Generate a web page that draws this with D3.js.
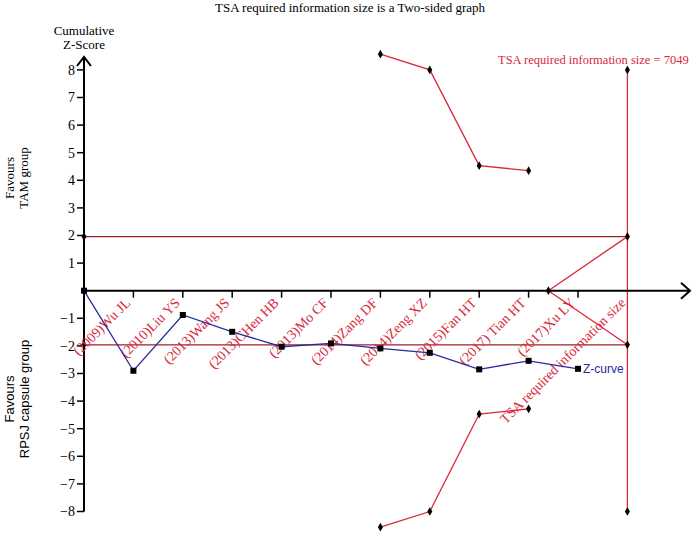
<!DOCTYPE html>
<meta charset="utf-8">
<script src="https://d3js.org/d3.v7.js"></script>
<style>
  body { margin: 0; background: #fff; }
</style>
<body>
<div id="my_dataviz"></div>
<script>
  // study labels along the x axis (one per tick)
  const studies = ["(2009)Wu JL", "(2010)Liu YS", "(2013)Wang JS", "(2013)CHen HB", "(2013)Mo CF",
                   "(2014)Zang DF", "(2014)Zeng XZ", "(2015)Fan HT", "(2017) Tian HT", "(2017)Xu LY"];
  // cumulative z-curve, starts at the origin
  const zPos = [0, 1, 2, 3, 4, 5, 6, 7, 8, 9, 10];
  const zVal = [0, -2.9, -0.88, -1.49, -2.03, -1.91, -2.09, -2.25, -2.85, -2.54, -2.83];
  // trial sequential monitoring boundaries
  const bPos = [6, 7, 8, 9];
  const upperB = [8.57, 8, 4.53, 4.35];
  const lowerB = [-8.57, -8, -4.47, -4.28];
  // inner wedge (futility) and RIS
  const wedgePos = [9.4, 11];
  const wedgeVal = [0, 1.96];
  const risPos = 11;
  const risLabel = "TSA required information size = 7049";
  const conv = 1.96;
  const yTicks = [8, 7, 6, 5, 4, 3, 2, 1, -1, -2, -3, -4, -5, -6, -7, -8];

  const width = 694, height = 538;
  const serif = "'Liberation Serif', 'Times New Roman', serif";
  const sans = "'Liberation Sans', Arial, sans-serif";
  const red = "#d8283a", darkRed = "#9c2228", blue = "#2a2a9c";

  const svg = d3.select("#my_dataviz").append("svg")
    .attr("width", width).attr("height", height)
    .style("font-family", serif);

  const x = d3.scaleLinear().domain([0, 11]).range([84, 627.4]);
  const y = d3.scaleLinear().domain([-8, 8]).range([511.5, 69.9]);

  // title
  svg.append("text").attr("x", 350).attr("y", 12).attr("text-anchor", "middle")
    .style("font-family", serif).style("font-size", "13px")
    .text("TSA required information size is a Two-sided graph");

  svg.append("text").attr("x", 84).attr("y", 35).attr("text-anchor", "middle")
    .style("font-family", serif).style("font-size", "13px").text("Cumulative");
  svg.append("text").attr("x", 84).attr("y", 49).attr("text-anchor", "middle")
    .style("font-family", serif).style("font-size", "13px").text("Z-Score");

  // side labels
  const side1 = svg.append("text").attr("transform", "translate(14,178) rotate(-90)")
    .attr("text-anchor", "middle").style("font-family", serif).style("font-size", "13px");
  side1.append("tspan").attr("x", 0).attr("dy", 0).text("Favours");
  side1.append("tspan").attr("x", 0).attr("dy", 14).text("TAM group");
  const side2 = svg.append("text").attr("transform", "translate(14,399) rotate(-90)")
    .attr("text-anchor", "middle").style("font-size", "13px")
    .style("font-family", sans);
  side2.append("tspan").attr("x", 0).attr("dy", 0).text("Favours");
  side2.append("tspan").attr("x", 0).attr("dy", 15).text("RPSJ capsule group");

  // conventional boundaries
  [conv, -conv].forEach(v => {
    svg.append("line").attr("x1", x(0)).attr("x2", x(risPos))
      .attr("y1", y(v)).attr("y2", y(v))
      .attr("stroke", darkRed).attr("stroke-width", 1.3);
  });

  // RIS vertical line
  svg.append("line").attr("x1", x(risPos)).attr("x2", x(risPos))
    .attr("y1", y(8)).attr("y2", y(-8)).attr("stroke", red).attr("stroke-width", 1.3);

  const line = d3.line().x(d => x(d[0])).y(d => y(d[1]));

  // wedge
  [1, -1].forEach(s => {
    svg.append("path").datum(wedgePos.map((p, i) => [p, wedgeVal[i] * s]))
      .attr("d", line).attr("fill", "none").attr("stroke", red).attr("stroke-width", 1.3);
  });

  // TSA boundaries
  [upperB, lowerB].forEach(arr => {
    svg.append("path").datum(bPos.map((p, i) => [p, arr[i]]))
      .attr("d", line).attr("fill", "none").attr("stroke", red).attr("stroke-width", 1.3);
  });

  // boundary dots
  const dots = [];
  bPos.forEach((p, i) => { dots.push([p, upperB[i]]); dots.push([p, lowerB[i]]); });
  dots.push([wedgePos[0], wedgeVal[0]]);
  [8, conv, -conv, -8].forEach(v => dots.push([risPos, v]));
  dots.push([0, conv]); dots.push([0, -conv]);
  svg.selectAll(".bdot").data(dots).join("path")
    .attr("d", d3.symbol(d3.symbolDiamond, 22))
    .attr("transform", d => `translate(${x(d[0])},${y(d[1])})`)
    .attr("fill", "#000");

  // axes
  svg.append("line").attr("x1", x(0)).attr("x2", x(0)).attr("y1", y(-8)).attr("y2", 57)
    .attr("stroke", "#000").attr("stroke-width", 2);
  svg.append("path").attr("d", "M77,66L84,57L91,66").attr("fill", "none")
    .attr("stroke", "#000").attr("stroke-width", 2);
  svg.append("line").attr("x1", x(0)).attr("x2", 690).attr("y1", y(0)).attr("y2", y(0))
    .attr("stroke", "#000").attr("stroke-width", 2);
  svg.append("path").attr("d", `M681,${y(0) - 8}L690,${y(0)}L681,${y(0) + 8}`).attr("fill", "none")
    .attr("stroke", "#000").attr("stroke-width", 2);

  // y ticks
  const yt = svg.selectAll(".yt").data(yTicks).join("g")
    .attr("transform", d => `translate(${x(0)},${y(d)})`);
  yt.append("line").attr("x1", -7).attr("x2", 0).attr("stroke", "#000").attr("stroke-width", 1.5);
  yt.append("text").attr("x", -9).attr("dy", "0.35em").attr("text-anchor", "end")
    .style("font-family", serif).style("font-size", "14px")
    .text(d => d < 0 ? "\u2212" + (-d) : d);

  // x ticks and study labels
  const xt = svg.selectAll(".xt").data(studies).join("g")
    .attr("transform", (d, i) => `translate(${x(i + 1)},${y(0)})`);
  xt.append("line").attr("y1", 0).attr("y2", 7).attr("stroke", "#000").attr("stroke-width", 1.5);
  xt.append("text").attr("transform", "translate(-2,13) rotate(-45)")
    .attr("text-anchor", "end").attr("fill", red)
    .style("font-family", serif).style("font-size", "14px").text(d => d);

  svg.append("text").attr("transform", `translate(${x(risPos) - 1},${y(0) + 13}) rotate(-45)`)
    .attr("text-anchor", "end").attr("fill", red)
    .style("font-family", serif).style("font-size", "14px")
    .text("TSA required information size");

  svg.append("text").attr("x", 498).attr("y", 64).attr("fill", red)
    .style("font-family", serif).style("font-size", "12.5px").text(risLabel);

  // z-curve
  svg.append("path").datum(zPos.map((p, i) => [p, zVal[i]]))
    .attr("d", line).attr("fill", "none").attr("stroke", blue).attr("stroke-width", 1.3);
  svg.selectAll(".zp").data(zPos.map((p, i) => [p, zVal[i]])).join("rect")
    .attr("x", d => x(d[0]) - 3).attr("y", d => y(d[1]) - 3)
    .attr("width", 6).attr("height", 6).attr("fill", "#000");
  svg.append("text").attr("x", x(10) + 5).attr("y", y(zVal[10]) + 4).attr("fill", blue)
    .style("font-family", sans).style("font-size", "12px")
    .text("Z-curve");
</script>
</body>
